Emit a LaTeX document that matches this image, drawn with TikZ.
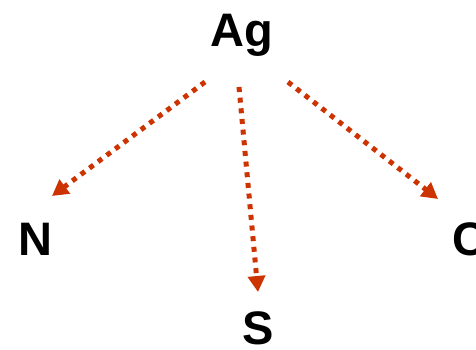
\documentclass[tikz,border=0pt]{standalone}
\usepackage{fontspec}
\setmainfont{Liberation Sans}
\usetikzlibrary{arrows.meta}
\definecolor{arr}{HTML}{CC3300}
\begin{document}
\begin{tikzpicture}[x=1pt,y=-1pt,
  lbl/.style={inner sep=0pt,font=\fontsize{47}{47}\selectfont\bfseries},
  dotarrow/.style={draw=arr,line width=5pt,dash pattern=on 5pt off 5.7pt,
    -{Triangle[length=16pt,width=17pt,fill=arr]}}]
\useasboundingbox (0,0) rectangle (476,350);
\node[lbl,anchor=base] (ag) at (242,47) {Ag};
\node[lbl,anchor=base] (n) at (35,255) {N};
\node[lbl,anchor=base west] (c) at (452,255) {C};
\node[lbl,anchor=base] (s) at (258,344) {S};
\coordinate (a1) at (205,82);
\coordinate (a2) at (239,87);
\coordinate (a3) at (288,82);
\coordinate (tn) at (52,196);
\coordinate (ts) at (258,292);
\coordinate (tc) at (438,199);
\draw[dotarrow] (a1) -- (tn);
\draw[dotarrow] (a2) -- (ts);
\draw[dotarrow] (a3) -- (tc);
\end{tikzpicture}
\end{document}
